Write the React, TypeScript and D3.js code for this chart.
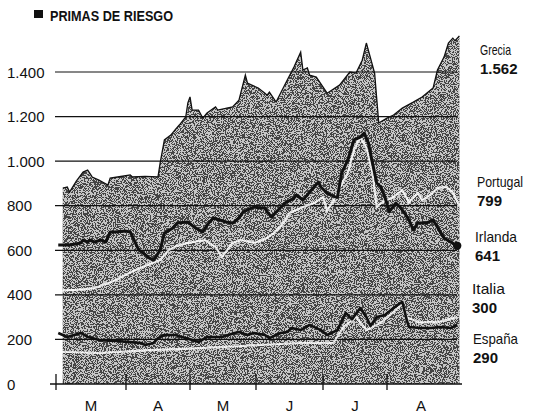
import React from "react";
import * as d3 from "d3";

const title = "PRIMAS DE RIESGO";
const monthLabels = ["M", "A", "M", "J", "J", "A"];
const monthStarts = ["2011-03-01", "2011-04-01", "2011-05-01", "2011-06-01", "2011-07-01", "2011-08-01", "2011-09-01"];
const yTicks = [0, 200, 400, 600, 800, 1000, 1200, 1400];

type Pt = [string, number];

const grecia: Pt[] = [
  ["2011-03-04", 879], ["2011-03-06", 884], ["2011-03-07", 861], ["2011-03-10", 910], ["2011-03-13", 951],
  ["2011-03-15", 960], ["2011-03-16", 945], ["2011-03-17", 929], ["2011-03-20", 915], ["2011-03-24", 893],
  ["2011-03-25", 924], ["2011-03-29", 930], ["2011-04-03", 938], ["2011-04-04", 929], ["2011-04-10", 932],
  ["2011-04-16", 929], ["2011-04-17", 991], ["2011-04-19", 1095], ["2011-04-22", 1117], ["2011-04-24", 1140],
  ["2011-04-26", 1162], ["2011-04-29", 1198], ["2011-04-30", 1261], ["2011-05-01", 1288], ["2011-05-02", 1229],
  ["2011-05-05", 1229], ["2011-05-07", 1193], ["2011-05-09", 1216], ["2011-05-13", 1243], ["2011-05-14", 1229],
  ["2011-05-21", 1243], ["2011-05-24", 1274], ["2011-05-27", 1386], ["2011-05-28", 1350], ["2011-05-30", 1341],
  ["2011-06-02", 1328], ["2011-06-05", 1305], ["2011-06-06", 1296], ["2011-06-07", 1310], ["2011-06-10", 1265],
  ["2011-06-15", 1364], ["2011-06-18", 1422], ["2011-06-21", 1489], ["2011-06-22", 1409], ["2011-06-24", 1418],
  ["2011-06-25", 1386], ["2011-06-28", 1377], ["2011-07-03", 1305], ["2011-07-09", 1341], ["2011-07-14", 1400],
  ["2011-07-17", 1395], ["2011-07-20", 1453], ["2011-07-22", 1530], ["2011-07-26", 1395], ["2011-07-28", 1171],
  ["2011-08-01", 1193], ["2011-08-04", 1207], ["2011-08-08", 1238], ["2011-08-13", 1265], ["2011-08-17", 1288],
  ["2011-08-22", 1328], ["2011-08-24", 1409], ["2011-08-27", 1467], ["2011-08-29", 1530], ["2011-08-31", 1552],
  ["2011-09-01", 1540], ["2011-09-03", 1562],
];

const irlanda: Pt[] = [
  ["2011-03-02", 624], ["2011-03-07", 624], ["2011-03-12", 633], ["2011-03-13", 646], ["2011-03-15", 637],
  ["2011-03-16", 646], ["2011-03-18", 637], ["2011-03-21", 646], ["2011-03-23", 637], ["2011-03-25", 682],
  ["2011-03-27", 682], ["2011-04-01", 686], ["2011-04-03", 682], ["2011-04-07", 601], ["2011-04-09", 588],
  ["2011-04-12", 565], ["2011-04-14", 556], ["2011-04-17", 601], ["2011-04-19", 677], ["2011-04-23", 700],
  ["2011-04-25", 722], ["2011-04-30", 727], ["2011-05-03", 704], ["2011-05-07", 682], ["2011-05-09", 713],
  ["2011-05-12", 745], ["2011-05-15", 736], ["2011-05-18", 727], ["2011-05-21", 722], ["2011-05-24", 745],
  ["2011-05-26", 772], ["2011-05-31", 794], ["2011-06-03", 790], ["2011-06-05", 790], ["2011-06-06", 772],
  ["2011-06-08", 749], ["2011-06-10", 772], ["2011-06-14", 812], ["2011-06-18", 834], ["2011-06-19", 848],
  ["2011-06-22", 825], ["2011-06-25", 861], ["2011-06-29", 906], ["2011-06-30", 884], ["2011-07-03", 857],
  ["2011-07-07", 839], ["2011-07-08", 839], ["2011-07-10", 946], ["2011-07-13", 1005], ["2011-07-16", 1095],
  ["2011-07-19", 1108], ["2011-07-21", 1126], ["2011-07-23", 1081], ["2011-07-25", 991], ["2011-07-27", 902],
  ["2011-07-29", 884], ["2011-07-31", 839], ["2011-08-02", 772], ["2011-08-05", 812], ["2011-08-07", 794],
  ["2011-08-09", 767], ["2011-08-11", 736], ["2011-08-13", 691], ["2011-08-15", 722], ["2011-08-19", 722],
  ["2011-08-22", 736], ["2011-08-24", 704], ["2011-08-27", 655], ["2011-08-30", 637], ["2011-09-02", 620],
];

const espana: Pt[] = [
  ["2011-03-02", 229], ["2011-03-06", 211], ["2011-03-12", 229], ["2011-03-15", 211], ["2011-03-17", 206],
  ["2011-03-20", 197], ["2011-03-28", 193], ["2011-04-03", 188], ["2011-04-08", 184], ["2011-04-10", 175],
  ["2011-04-14", 184], ["2011-04-16", 206], ["2011-04-19", 220], ["2011-04-24", 220], ["2011-04-29", 206],
  ["2011-05-05", 188], ["2011-05-09", 211], ["2011-05-16", 211], ["2011-05-22", 229], ["2011-05-24", 233],
  ["2011-05-28", 220], ["2011-05-31", 229], ["2011-06-05", 220], ["2011-06-07", 206], ["2011-06-12", 229],
  ["2011-06-15", 233], ["2011-06-17", 251], ["2011-06-21", 242], ["2011-06-25", 265], ["2011-06-30", 242],
  ["2011-07-03", 220], ["2011-07-08", 242], ["2011-07-12", 319], ["2011-07-15", 290], ["2011-07-19", 341],
  ["2011-07-22", 301], ["2011-07-24", 260], ["2011-07-27", 301], ["2011-07-31", 310], ["2011-08-04", 341],
  ["2011-08-07", 363], ["2011-08-08", 368], ["2011-08-10", 287], ["2011-08-11", 256], ["2011-08-16", 251],
  ["2011-08-21", 251], ["2011-08-25", 256], ["2011-08-30", 251], ["2011-09-02", 265],
];

const italia: Pt[] = [
  ["2011-03-03", 145], ["2011-03-20", 139], ["2011-04-12", 152], ["2011-05-06", 161], ["2011-06-03", 175],
  ["2011-06-21", 184], ["2011-07-06", 184], ["2011-07-11", 256], ["2011-07-17", 301], ["2011-07-22", 242],
  ["2011-07-29", 274], ["2011-08-04", 323], ["2011-08-08", 360], ["2011-08-10", 300], ["2011-08-16", 275],
  ["2011-08-25", 280], ["2011-09-02", 300],
];

const portugal: Pt[] = [
  ["2011-03-04", 420], ["2011-03-10", 422], ["2011-03-18", 430], ["2011-03-26", 460], ["2011-04-03", 500],
  ["2011-04-10", 530], ["2011-04-17", 556], ["2011-04-21", 601], ["2011-04-25", 620], ["2011-04-30", 633],
  ["2011-05-08", 646], ["2011-05-13", 615], ["2011-05-16", 570], ["2011-05-21", 633], ["2011-05-25", 646],
  ["2011-05-31", 633], ["2011-06-05", 650], ["2011-06-09", 677], ["2011-06-13", 720], ["2011-06-16", 767],
  ["2011-06-21", 790], ["2011-06-27", 812], ["2011-07-01", 839], ["2011-07-03", 780], ["2011-07-06", 820],
  ["2011-07-09", 880], ["2011-07-13", 946], ["2011-07-16", 1050], ["2011-07-19", 1108], ["2011-07-22", 1060],
  ["2011-07-25", 946], ["2011-07-27", 794], ["2011-07-29", 812], ["2011-08-04", 840], ["2011-08-08", 870],
  ["2011-08-11", 816], ["2011-08-15", 857], ["2011-08-17", 825], ["2011-08-21", 850], ["2011-08-24", 879],
  ["2011-08-28", 884], ["2011-08-31", 860], ["2011-09-03", 799],
];

const endLabels = [
  { name: "Grecia", value: "1.562", nameW: 31 },
  { name: "Portugal", value: "799", nameW: 46 },
  { name: "Irlanda", value: "641", nameW: 42 },
  { name: "Italia", value: "300", nameW: 33 },
  { name: "España", value: "290", nameW: 45 },
];

const parse = d3.timeParse("%Y-%m-%d");

export default function App() {
  const W = 533, H = 420;
  const x = d3
    .scaleTime()
    .domain(monthStarts.map((s) => parse(s) as Date))
    .range([56, 126, 190, 256, 323, 387, 455]);
  const y = d3.scaleLinear().domain([0, 1400]).range([384, 72]);

  const px = (d: Pt) => x(parse(d[0]) as Date);
  const py = (d: Pt) => y(d[1]);
  const area = d3.area<Pt>().x(px).y0(y(0)).y1(py);
  const line = d3.line<Pt>().x(px).y(py);

  const gridX0 = 55, gridX1 = 457;
  const labelYs = [55, 187, 242, 294, 344];
  const labelXs = [480, 477, 475, 472, 473];
  const lastIr = irlanda[irlanda.length - 1];
  const font = "'Liberation Sans', Arial, sans-serif";
  const narrow = "'Liberation Sans Narrow', 'Liberation Sans', Arial, sans-serif";

  return (
    <svg width={W} height={H} style={{ display: "block", position: "absolute", left: 0, top: 0, background: "#fff" }}>
      <defs>
        <filter id="grain" filterUnits="userSpaceOnUse" x={0} y={0} width={W} height={H} colorInterpolationFilters="sRGB">
          <feTurbulence type="fractalNoise" baseFrequency="1.1" numOctaves={2} seed={7} result="noise" />
          <feColorMatrix in="noise" type="matrix" values="1 0 0 0 0  1 0 0 0 0  1 0 0 0 0  0 0 0 0 1" result="gray" />
          <feComponentTransfer in="gray">
            <feFuncR type="discrete" tableValues="0 1" />
            <feFuncG type="discrete" tableValues="0 1" />
            <feFuncB type="discrete" tableValues="0 1" />
          </feComponentTransfer>
        </filter>
        <clipPath id="areaClip">
          <path d={area(grecia) || ""} />
        </clipPath>
      </defs>

      {/* title */}
      <rect x={34} y={10} width={9} height={8} fill="#111" />
      <text x={50} y={21} fontFamily={narrow} fontWeight="bold" fontSize={15} fill="#111" textLength={123} lengthAdjust="spacingAndGlyphs">
        {title}
      </text>

      {/* area */}
      <path d={area(grecia) || ""} fill="#8a8a8a" />
      <g clipPath="url(#areaClip)" opacity={0.5}>
        <rect x={0} y={0} width={W} height={H} filter="url(#grain)" fill="#000" />
      </g>
      <path d={line(grecia) || ""} fill="none" stroke="#111" strokeWidth={1.3} />

      {/* grid */}
      {yTicks.filter((t) => t > 0).map((t) => (
        <line key={t} x1={gridX0} x2={gridX1} y1={y(t)} y2={y(t)} stroke="#111" strokeWidth={1.2} />
      ))}
      {yTicks.map((t) => (
        <text key={"l" + t} x={7} y={y(t) + 5.5} fontFamily={font} fontSize={15} fill="#111">
          {d3.format(",")(t).replace(/,/g, ".")}
        </text>
      ))}

      {/* white lines */}
      <path d={line(italia) || ""} fill="none" stroke="#fff" strokeWidth={2.2} opacity={0.8} />
      <path d={line(portugal) || ""} fill="none" stroke="#fff" strokeWidth={2.2} opacity={0.85} />

      {/* black lines */}
      <path d={line(espana) || ""} fill="none" stroke="#111" strokeWidth={2.6} strokeLinejoin="round" />
      <path d={line(irlanda) || ""} fill="none" stroke="#111" strokeWidth={3} strokeLinejoin="round" />
      <circle cx={px(lastIr)} cy={py(lastIr)} r={4.2} fill="#111" />

      {/* x axis */}
      <line x1={50} x2={462} y1={y(0)} y2={y(0)} stroke="#111" strokeWidth={1.5} />
      {monthStarts.slice(0, 6).map((m) => (
        <line key={m} x1={x(parse(m) as Date)} x2={x(parse(m) as Date)} y1={y(0) - 10} y2={y(0) + 6} stroke="#111" strokeWidth={1.3} />
      ))}
      {monthLabels.map((lab, i) => {
        const a = x(parse(monthStarts[i]) as Date);
        const b = x(parse(monthStarts[i + 1]) as Date);
        return (
          <text key={i} x={(a + b) / 2} y={411} textAnchor="middle" fontFamily={narrow} fontSize={15} fill="#111">
            {lab}
          </text>
        );
      })}

      {/* end labels */}
      {endLabels.map((l, i) => (
        <g key={l.name}>
          <text x={labelXs[i]} y={labelYs[i]} fontFamily={narrow} fontSize={15} fill="#111" textLength={l.nameW} lengthAdjust="spacingAndGlyphs">
            {l.name}
          </text>
          <text x={labelXs[i]} y={labelYs[i] + 18.5} fontFamily={font} fontWeight="bold" fontSize={15} fill="#111">
            {l.value}
          </text>
        </g>
      ))}
    </svg>
  );
}
